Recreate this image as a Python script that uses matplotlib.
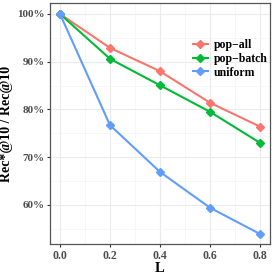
import matplotlib
matplotlib.use("Agg")
import matplotlib.pyplot as plt
from matplotlib.ticker import MultipleLocator, FuncFormatter

L = [0.0, 0.2, 0.4, 0.6, 0.8]
pop_all = [100.0, 92.9, 88.0, 81.4, 76.4]
pop_batch = [100.0, 90.6, 85.05, 79.5, 73.0]
uniform = [100.0, 76.7, 66.9, 59.4, 53.9]
series = [("pop\u2212all", pop_all, "#F8766D"),
          ("pop\u2212batch", pop_batch, "#00BA38"),
          ("uniform", uniform, "#619CFF")]

plt.rcParams['font.family'] = ['Liberation Serif', 'DejaVu Serif']
fig = plt.figure(figsize=(2.74, 2.74), dpi=100)
ax = fig.add_axes([50/274, 1-244/274, 220/274, 241/274])

for name, vals, col in series:
    ax.plot(L, vals, color=col, lw=1.5, marker='D', ms=4.5, label=name, zorder=3)

ax.set_xlim(-0.04, 0.84)
ax.set_ylim(51.8, 102.3)
ax.xaxis.set_major_locator(MultipleLocator(0.2))
ax.xaxis.set_minor_locator(MultipleLocator(0.1))
ax.yaxis.set_major_locator(MultipleLocator(10))
ax.yaxis.set_minor_locator(MultipleLocator(5))
ax.yaxis.set_major_formatter(FuncFormatter(lambda v, p: f"{int(round(v))}%"))
ax.xaxis.set_major_formatter(FuncFormatter(lambda v, p: f"{v:.1f}"))
ax.grid(which='major', color='#EBEBEB', lw=0.8)
ax.grid(which='minor', color='#F4F4F4', lw=0.5)
ax.set_axisbelow(True)
for s in ax.spines.values():
    s.set_color('#555555')
    s.set_linewidth(0.9)
ax.tick_params(which='both', length=2, color='#333333', labelsize=8, labelcolor='#4D4D4D', pad=2)
ax.tick_params(axis='x', labelsize=8.5)
ax.tick_params(which='minor', length=0)
for lab in ax.get_xticklabels() + ax.get_yticklabels():
    lab.set_fontweight('bold')
ax.set_xlabel("L", fontsize=10.5, fontweight='bold', labelpad=0)
ax.set_ylabel("Rec*@10 / Rec@10", fontsize=10, fontweight='bold', labelpad=3)
leg = ax.legend(loc='upper right', bbox_to_anchor=(1.02, 0.88), frameon=False,
                prop={'weight': 'bold', 'size': 8.5}, handlelength=1.2,
                handletextpad=0.5, labelspacing=0.15, borderaxespad=0.2)
fig.savefig("out.png", dpi=100)
